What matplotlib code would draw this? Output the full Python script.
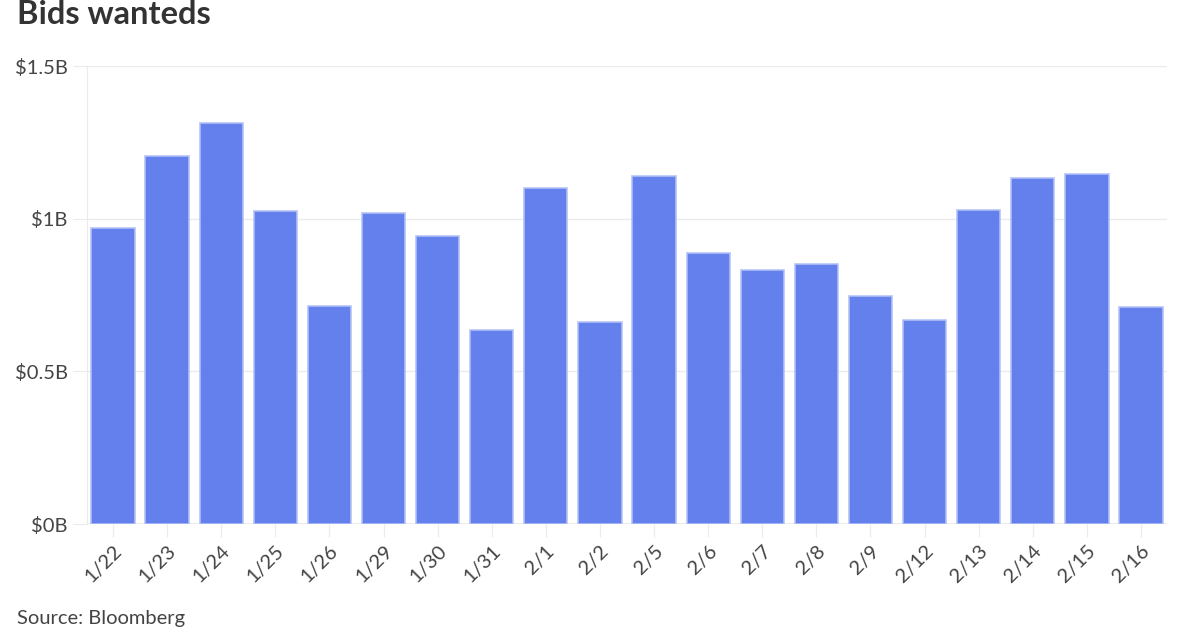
import numpy as np
import matplotlib
matplotlib.use("Agg")
import matplotlib.pyplot as plt

# data (billions of dollars)
dates = ['1/22', '1/23', '1/24', '1/25', '1/26', '1/29', '1/30', '1/31', '2/1', '2/2',
         '2/5', '2/6', '2/7', '2/8', '2/9', '2/12', '2/13', '2/14', '2/15', '2/16']
bids = [0.970, 1.205, 1.313, 1.025, 0.714, 1.019, 0.943, 0.635, 1.100, 0.662,
        1.140, 0.888, 0.832, 0.852, 0.747, 0.668, 1.028, 1.133, 1.146, 0.711]
yticks = [0, 0.5, 1.0, 1.5]
ytick_labels = ['$0B', '$0.5B', '$1B', '$1.5B']

plt.rcParams['font.family'] = ['Lato', 'DejaVu Sans']

fig = plt.figure(figsize=(12, 6.3), dpi=100)
ax = fig.add_axes([87/1200, 1 - 524/630, (1167-87)/1200, (524-66)/630])

x = np.arange(len(dates))
ax.bar(x, bids, width=0.8, color='#5b79ed', alpha=0.95,
       edgecolor='#b3c1f7', linewidth=1.2, zorder=3)

ax.set_xlim(-0.48, len(dates) - 0.52)
ax.set_ylim(0, 1.5)
ax.set_yticks(yticks)
ax.set_yticklabels(ytick_labels, fontsize=14.5, color='#444444')
ax.set_xticks(x)
ax.set_xticklabels(dates, rotation=45, ha='right', rotation_mode='anchor',
                   fontsize=14.5, color='#444444')

ax.grid(axis='y', color='#ebebeb', linewidth=1, zorder=0)
for s in ['top', 'right', 'bottom']:
    ax.spines[s].set_visible(False)
ax.spines['left'].set_color('#ebebeb')
ax.axhline(0, color='#ebebeb', linewidth=1.5, zorder=1)
ax.tick_params(axis='y', length=10, color='#ebebeb', pad=4)
ax.tick_params(axis='x', length=9, color='#ebebeb', pad=4)

fig.text(17/1200, 1 - 15/630, 'Bids wanteds', fontsize=23.5, fontweight='bold',
         color='#333333', va='center', ha='left')
fig.text(17/1200, 1 - 627/630, 'Source: Bloomberg', fontsize=14.5,
         color='#444444', va='bottom', ha='left')

fig.savefig('out.png', dpi=100)
